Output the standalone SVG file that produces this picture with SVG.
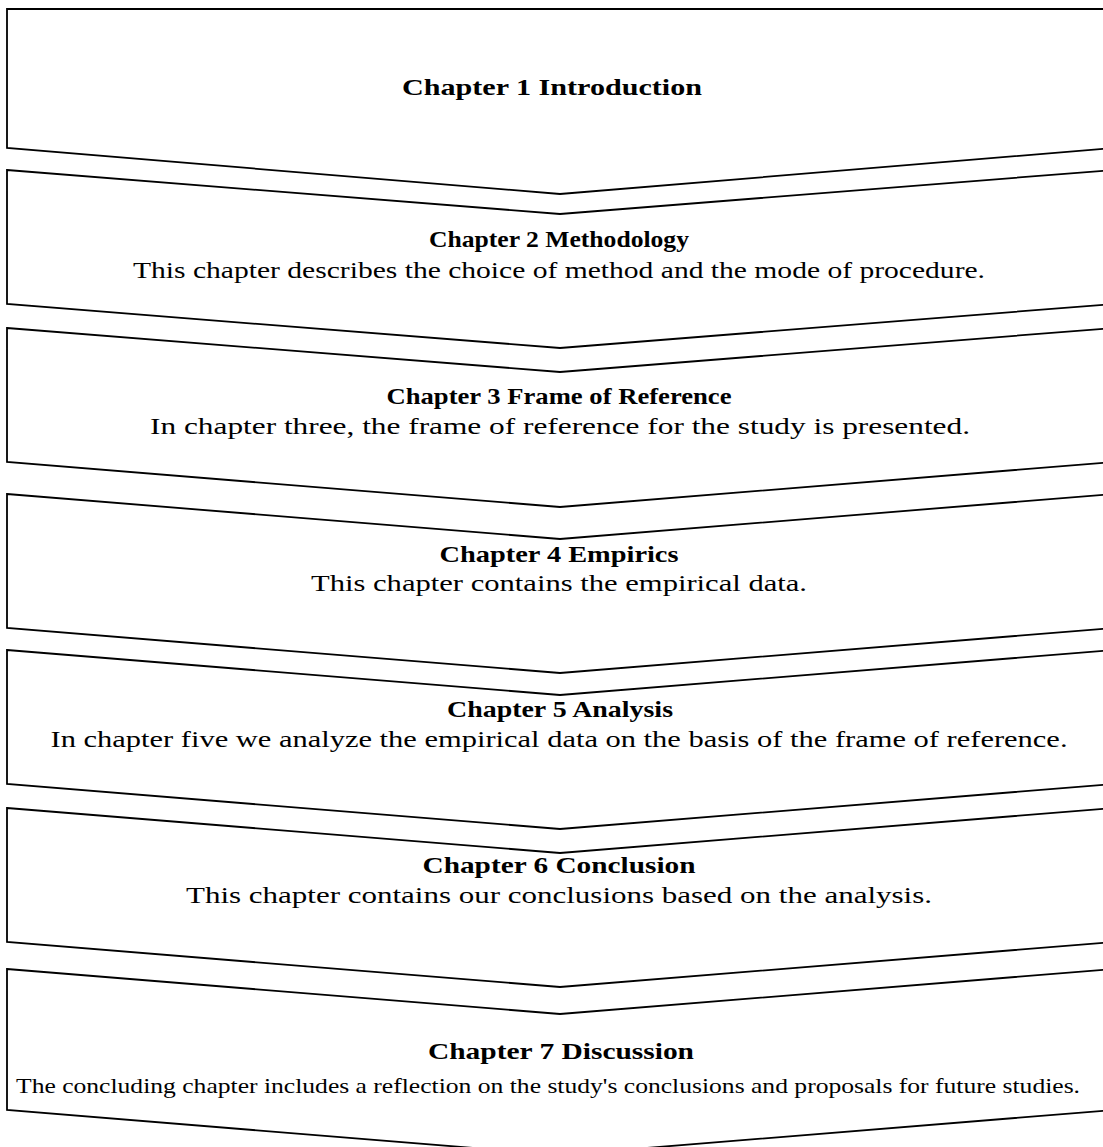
<svg xmlns="http://www.w3.org/2000/svg" width="1103" height="1147" viewBox="0 0 1103 1147">
<style>
.box{fill:#fff;stroke:#000;stroke-width:1.8;stroke-linejoin:miter}
.t{font-family:"Liberation Serif","DejaVu Serif",serif;font-size:24px;font-weight:bold;fill:#000;text-anchor:middle}
.s{font-family:"Liberation Serif","DejaVu Serif",serif;font-size:24px;fill:#000;text-anchor:middle}
.s7{font-size:21px}
</style>
<rect width="1103" height="1147" fill="#fff"/>
<g id="node1">
<path class="box" d="M7,9 L1113,9 L1113,148 L560,194 L7,148 Z"/>
<text class="t" x="552" y="95" textLength="300" lengthAdjust="spacingAndGlyphs">Chapter 1 Introduction</text>
</g>
<g id="node2">
<path class="box" d="M7,170 L560,214 L1113,170 L1113,304 L560,348 L7,304 Z"/>
<text class="t" x="559" y="247" textLength="260" lengthAdjust="spacingAndGlyphs">Chapter 2 Methodology</text>
<text class="s" x="559" y="278" textLength="852" lengthAdjust="spacingAndGlyphs">This chapter describes the choice of method and the mode of procedure.</text>
</g>
<g id="node3">
<path class="box" d="M7,328 L560,372 L1113,328 L1113,462 L560,507 L7,462 Z"/>
<text class="t" x="559" y="404" textLength="345" lengthAdjust="spacingAndGlyphs">Chapter 3 Frame of Reference</text>
<text class="s" x="560" y="434" textLength="820" lengthAdjust="spacingAndGlyphs">In chapter three, the frame of reference for the study is presented.</text>
</g>
<g id="node4">
<path class="box" d="M7,494 L560,539 L1113,494 L1113,628 L560,673 L7,628 Z"/>
<text class="t" x="559" y="562" textLength="239" lengthAdjust="spacingAndGlyphs">Chapter 4 Empirics</text>
<text class="s" x="559" y="591" textLength="496" lengthAdjust="spacingAndGlyphs">This chapter contains the empirical data.</text>
</g>
<g id="node5">
<path class="box" d="M7,650 L560,695 L1113,650 L1113,784 L560,829 L7,784 Z"/>
<text class="t" x="560" y="717" textLength="226" lengthAdjust="spacingAndGlyphs">Chapter 5 Analysis</text>
<text class="s" x="559" y="747" textLength="1017" lengthAdjust="spacingAndGlyphs">In chapter five we analyze the empirical data on the basis of the frame of reference.</text>
</g>
<g id="node6">
<path class="box" d="M7,808 L560,853 L1113,808 L1113,942 L560,987 L7,942 Z"/>
<text class="t" x="559" y="873" textLength="273" lengthAdjust="spacingAndGlyphs">Chapter 6 Conclusion</text>
<text class="s" x="559" y="903" textLength="746" lengthAdjust="spacingAndGlyphs">This chapter contains our conclusions based on the analysis.</text>
</g>
<g id="node7">
<path class="box" d="M7,969 L560,1014 L1113,969 L1113,1110 L560,1155 L7,1110 Z"/>
<text class="t" x="561" y="1059" textLength="266" lengthAdjust="spacingAndGlyphs">Chapter 7 Discussion</text>
<text class="s s7" x="548" y="1093" textLength="1064" lengthAdjust="spacingAndGlyphs">The concluding chapter includes a reflection on the study's conclusions and proposals for future studies.</text>
</g>
<g id="connectors"></g>
</svg>
